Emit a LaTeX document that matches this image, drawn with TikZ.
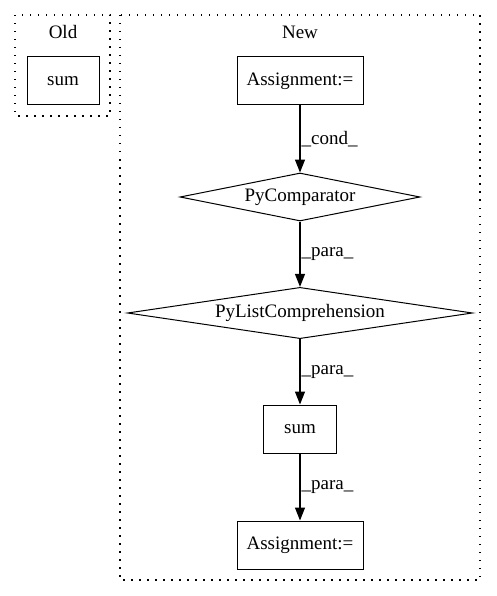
\documentclass[tikz,border=0pt]{standalone}
\usepackage{fontspec}
\setmainfont{Liberation Serif}
\usetikzlibrary{shapes.geometric,arrows.meta}

\begin{document}
\begin{tikzpicture}[x=1pt,y=-1pt,node distance=116pt,auto,
	font=\fontsize{19}{22}\selectfont,
	box/.style={draw,rectangle,line width=1pt,minimum width=126pt,minimum height=48pt,inner sep=0pt},
	cmp/.style={draw,diamond,line width=1pt,aspect=5,inner sep=0pt,minimum height=48pt},
	cluster/.style={draw,line width=1.2pt,dash pattern=on 1.5pt off 6.5pt},
	lbl/.style={inner sep=1pt}]
\useasboundingbox (0,0) rectangle (496,596);
% clusters
\draw[cluster]	(15,15)		rectangle (110,116);
\draw[cluster]	(120,15)	rectangle (480,580);
\node		(old)	at (63,32)	{Old};
\node		(new)	at (300,32)	{New};
% old side
\node[box,minimum width=72pt]	(s_old)	at (63,81)	{sum};
% new side
\node[box]			(a_top)	at (300,81)	{Assignment:=};
\node[cmp,minimum width=240pt]	(cmp)	[below of=a_top]	{PyComparator};
\node[cmp,minimum width=345pt]	(lcomp)	[below of=cmp]		{PyListComprehension};
\node[box,minimum width=73pt]	(s_new)	[below of=lcomp]	{sum};
\node[box]			(a_bot)	[below of=s_new]	{Assignment:=};
\path[-{Triangle[length=13pt,width=10pt]},line width=1.2pt]
		(a_top)	edge	node[lbl]	{\_cond\_}	(cmp)
		(cmp)	edge	node[lbl]	{\_para\_}	(lcomp)
		(lcomp)	edge	node[lbl]	{\_para\_}	(s_new)
		(s_new)	edge	node[lbl]	{\_para\_}	(a_bot);
\end{tikzpicture}
\end{document}
